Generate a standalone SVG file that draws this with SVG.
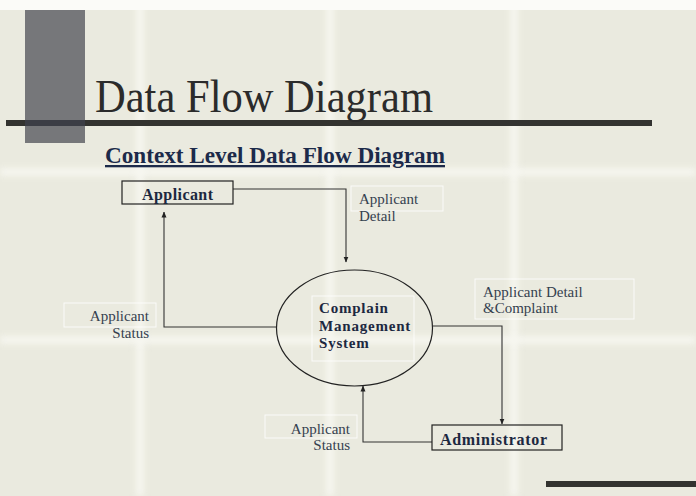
<svg xmlns="http://www.w3.org/2000/svg" width="696" height="496" viewBox="0 0 696 496">
<defs>
<filter id="blur" x="-20%" y="-20%" width="140%" height="140%"><feGaussianBlur stdDeviation="3"/></filter>
<marker id="arr" markerWidth="6" markerHeight="6" refX="5.5" refY="3" orient="auto" markerUnits="userSpaceOnUse">
<path d="M0,0.5 L6,3 L0,5.5 Z" fill="#222"/>
</marker>
<style>
.bold{font-family:"Liberation Serif","Times New Roman",serif;font-weight:bold;fill:#1c2840;}
.lbl{font-family:"Liberation Serif","Times New Roman",serif;font-size:15px;fill:#35414f;}
.lblbox{fill:none;stroke:#ffffff;stroke-width:1;opacity:0.8;}
.node{fill:none;stroke:#222;stroke-width:1.2;}
.conn{fill:none;stroke:#333;stroke-width:1.1;marker-end:url(#arr);}
</style>
</defs>
<rect x="0" y="0" width="696" height="496" fill="#eaeadf"/>
<g filter="url(#blur)" stroke="#fbfbf6" stroke-width="7" opacity="0.8">
<line x1="140" y1="0" x2="140" y2="496"/>
<line x1="330" y1="0" x2="330" y2="496"/>
<line x1="514" y1="0" x2="514" y2="496"/>
<line x1="0" y1="172" x2="696" y2="172"/>
<line x1="0" y1="340" x2="696" y2="340"/>
</g>
<rect x="0" y="0" width="696" height="10" fill="#fbfbf8"/>
<rect x="6" y="120" width="646" height="6" fill="#333330"/>
<rect x="25" y="10" width="60" height="133" fill="#76777a"/>
<rect x="25" y="120" width="60" height="6" fill="#3b3d45"/>
<rect x="546" y="481" width="150" height="6" fill="#333330"/>
<text x="95" y="112" font-family="'Liberation Serif','Times New Roman',serif" font-size="46" fill="#2b2b2b" textLength="338" lengthAdjust="spacingAndGlyphs">Data Flow Diagram</text>
<text x="105" y="163" font-family="'Liberation Serif','Times New Roman',serif" font-size="23" font-weight="bold" fill="#1c2a4a" text-decoration="underline" textLength="340" lengthAdjust="spacingAndGlyphs">Context Level Data Flow Diagram</text>

<g id="connectors">
<polyline class="conn" points="233,189 346,189 346,262"/>
<polyline class="conn" points="276,327 164,327 164,212"/>
<polyline class="conn" points="433,326 502,326 502,424"/>
<polyline class="conn" points="432,442 363,442 363,386"/>
</g>

<g id="applicant">
<rect class="node" x="122" y="181" width="111" height="23" fill="none"/>
<text class="bold" x="142" y="200" font-size="16" textLength="71" lengthAdjust="spacing">Applicant</text>
</g>
<g id="system">
<ellipse class="node" cx="354.5" cy="328" rx="78" ry="58"/>
<rect class="lblbox" x="312" y="296" width="102" height="65"/>
<text class="bold" font-size="15" letter-spacing="0.8">
<tspan x="319" y="313">Complain</tspan>
<tspan x="319" y="330.5">Management</tspan>
<tspan x="319" y="347.5">System</tspan>
</text>
</g>
<g id="administrator">
<rect class="node" x="432" y="425" width="130" height="25"/>
<text class="bold" x="440" y="445" font-size="16" textLength="107" lengthAdjust="spacing">Administrator</text>
</g>

<g id="label-detail">
<rect class="lblbox" x="351" y="186" width="92" height="25"/>
<text class="lbl"><tspan x="359" y="204">Applicant</tspan><tspan x="359" y="220.5">Detail</tspan></text>
</g>
<g id="label-status-left">
<rect class="lblbox" x="64" y="303" width="92" height="24"/>
<text class="lbl" text-anchor="end"><tspan x="149" y="320.5">Applicant</tspan><tspan x="149" y="338">Status</tspan></text>
</g>
<g id="label-complaint">
<rect class="lblbox" x="475" y="279" width="159" height="40"/>
<text class="lbl"><tspan x="483" y="296.5">Applicant Detail</tspan><tspan x="483" y="313">&amp;Complaint</tspan></text>
</g>
<g id="label-status-bottom">
<rect class="lblbox" x="265" y="415" width="92" height="23"/>
<text class="lbl" text-anchor="end"><tspan x="350" y="434">Applicant</tspan><tspan x="350" y="450">Status</tspan></text>
</g>
</svg>
